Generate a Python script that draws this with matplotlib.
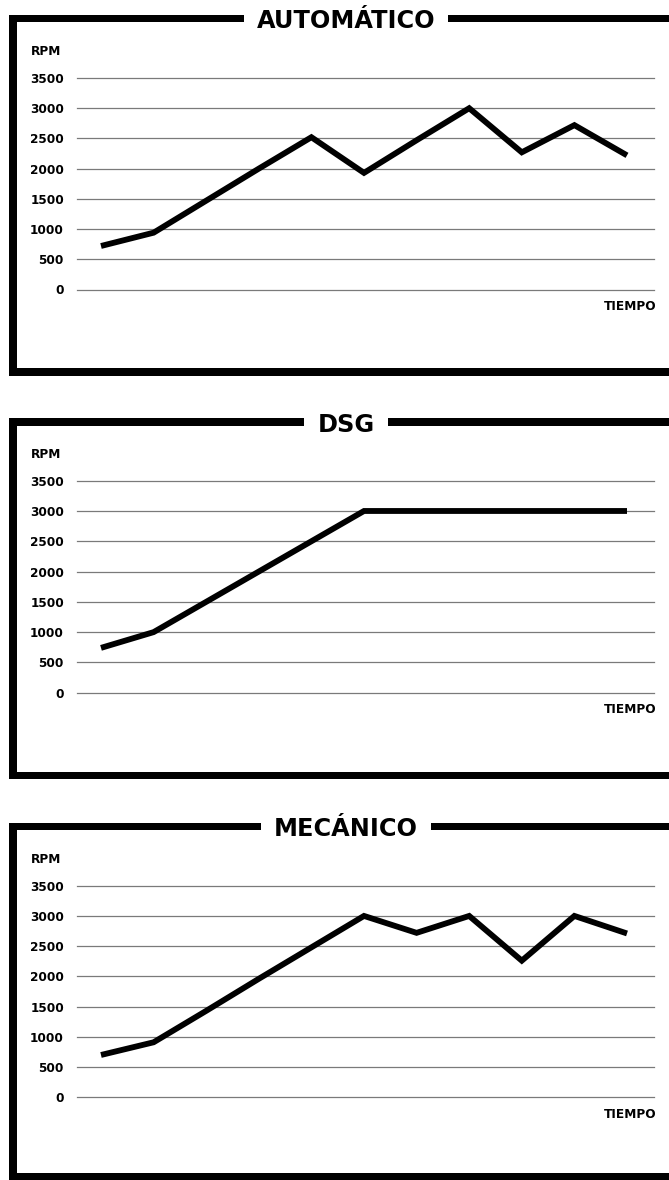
import matplotlib
matplotlib.use("Agg")
import matplotlib.pyplot as plt
from matplotlib.patches import Rectangle

# ---------------- data ----------------
titles = ["AUTOMÁTICO", "DSG", "MECÁNICO"]
time_steps = list(range(11))
rpm_automatico = [720, 940, 1470, 2000, 2520, 1930, 2470, 3000, 2270, 2720, 2220]
rpm_dsg = [740, 1000, 1500, 2000, 2500, 3000, 3000, 3000, 3000, 3000, 3000]
rpm_mecanico = [700, 910, 1430, 1960, 2480, 3000, 2720, 3000, 2260, 3000, 2710]
y_ticks = [0, 500, 1000, 1500, 2000, 2500, 3000, 3500]
y_label = "RPM"
x_label = "TIEMPO"
series = [rpm_automatico, rpm_dsg, rpm_mecanico]

# ---------------- layout (pixels, top-based) ----------------
W, H = 669, 1180
plt.rcParams['font.family'] = ['DejaVu Sans']
fig = plt.figure(figsize=(W / 100, H / 100), dpi=100)

bg = fig.add_axes([0, 0, 1, 1])
bg.set_xlim(0, W)
bg.set_ylim(H, 0)
bg.axis("off")

border_top = [18.5, 422.0, 826.5]
border_bot = [372.0, 775.5, 1176.5]
grid0 = [289.5, 692.7, 1097.3]
grid3500 = [78.0, 480.7, 885.7]
th = 7.6
left_x = 9.3
grid_l, grid_r = 77.0, 654.0
x_first, x_step = 101.0, 52.6
title_cx = 346.0

title_texts = []
for i in range(3):
    # left vertical border
    bg.add_patch(Rectangle((left_x, border_top[i] - th / 2), th,
                           border_bot[i] - border_top[i] + th,
                           facecolor="black", edgecolor="none"))
    # bottom border
    bg.add_patch(Rectangle((left_x, border_bot[i] - th / 2), W - left_x, th,
                           facecolor="black", edgecolor="none"))
    # title
    t = bg.text(title_cx, border_top[i] + 1 + 8.6, titles[i], ha="center",
                va="baseline", fontsize=17.3, fontweight="bold", color="black")
    title_texts.append(t)

    # data axes
    bottom = 1 - grid0[i] / H
    top = 1 - grid3500[i] / H
    ax = fig.add_axes([grid_l / W, bottom, (grid_r - grid_l) / W, top - bottom])
    ax.patch.set_alpha(0)
    x0 = -(x_first - grid_l) / x_step
    x1 = (grid_r - x_first) / x_step
    ax.set_xlim(x0, x1)
    ax.set_ylim(0, 3500)
    ax.set_yticks(y_ticks)
    ax.set_yticklabels([str(v) for v in y_ticks], fontsize=8.7,
                       fontweight="bold")
    ax.set_xticks([])
    ax.tick_params(axis="y", length=0, pad=9.4)
    for s in ax.spines.values():
        s.set_visible(False)
    ax.grid(axis="y", color="#7a7a7a", linewidth=0.9)
    for gl in ax.get_ygridlines():
        gl.set_clip_on(False)
    ax.plot(time_steps, series[i], color="black", linewidth=4.2,
            solid_joinstyle="miter", solid_capstyle="butt", clip_on=False,
            zorder=3)

    bg.text(30.5, grid3500[i] - 26.5, y_label, ha="left", va="center",
            fontsize=8.7, fontweight="bold")
    bg.text(657, grid0[i] + 17, x_label, ha="right", va="center",
            fontsize=8.7, fontweight="bold")

# top borders with a gap around the titles
fig.canvas.draw()
renderer = fig.canvas.get_renderer()
for i, t in enumerate(title_texts):
    bb = t.get_window_extent(renderer)
    gap_l = bb.x0 - 13
    gap_r = bb.x1 + 13
    bg.add_patch(Rectangle((left_x, border_top[i] - th / 2), gap_l - left_x, th,
                           facecolor="black", edgecolor="none"))
    bg.add_patch(Rectangle((gap_r, border_top[i] - th / 2), W - gap_r, th,
                           facecolor="black", edgecolor="none"))

fig.savefig("out.png", dpi=100, facecolor="white")
